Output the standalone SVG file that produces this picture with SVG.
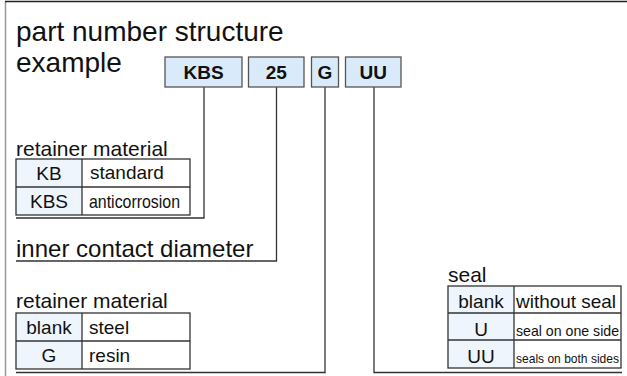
<svg xmlns="http://www.w3.org/2000/svg" width="627" height="376" viewBox="0 0 627 376">
<style>
text{font-family:"Liberation Sans",Arial,sans-serif;fill:#111}
.title{font-size:28px}
.lbl{font-size:21px}
.big{font-size:24px}
.code{font-size:19px;font-weight:bold;text-anchor:middle}
.key{font-size:19px;text-anchor:middle}
.val{font-size:19px}
.box{fill:#d9ebfa;stroke:#555;stroke-width:1.3}
.kc{fill:#eef5fc;stroke:none}
.cell{fill:none;stroke:#333;stroke-width:1.3}
.conn{fill:none;stroke:#333;stroke-width:1.3}
</style>
<rect width="627" height="376" fill="#fff"/>
<g id="frame">
<line x1="5.5" y1="1" x2="5.5" y2="376" stroke="#999" stroke-width="1.5"/>
<line x1="5" y1="1.5" x2="627" y2="1.5" stroke="#222" stroke-width="1.5"/>
</g>
<g id="title">
<text class="title" x="16" y="40.5">part number structure</text>
<text class="title" x="16" y="71.5">example</text>
</g>
<g id="connectors">
<polyline class="conn" points="204,87 204,218 16,218"/>
<polyline class="conn" points="276.5,87 276.5,261 16,261"/>
<polyline class="conn" points="325,87 325,372.5 16,372.5"/>
<polyline class="conn" points="374,87 374,372.5 622,372.5"/>
</g>
<g id="code-KBS">
<rect class="box" x="165" y="57" width="77" height="30"/>
<text class="code" x="203.5" y="79">KBS</text>
</g>
<g id="code-25">
<rect class="box" x="248.5" y="57" width="55.5" height="30"/>
<text class="code" x="276.2" y="79">25</text>
</g>
<g id="code-G">
<rect class="box" x="311.5" y="57" width="27" height="30"/>
<text class="code" x="325" y="79">G</text>
</g>
<g id="code-UU">
<rect class="box" x="345.5" y="57" width="55.5" height="30"/>
<text class="code" x="373.2" y="79">UU</text>
</g>
<g id="table-retainer-1">
<text class="lbl" x="16" y="156">retainer material</text>
<rect class="kc" x="16" y="159" width="66" height="56"/>
<rect class="cell" x="16" y="159" width="174" height="56"/>
<line class="cell" x1="82" y1="159" x2="82" y2="215"/>
<line class="cell" x1="16" y1="187" x2="190" y2="187"/>
<text class="key" x="49" y="180">KB</text>
<text class="val" x="90" y="179">standard</text>
<text class="key" x="49" y="208">KBS</text>
<text class="val" x="89" y="208" textLength="91" lengthAdjust="spacingAndGlyphs">anticorrosion</text>
</g>
<g id="label-diameter">
<text class="big" x="16" y="257">inner contact diameter</text>
</g>
<g id="table-retainer-2">
<text class="lbl" x="16" y="308">retainer material</text>
<rect class="kc" x="16" y="313" width="66" height="56"/>
<rect class="cell" x="16" y="313" width="174" height="56"/>
<line class="cell" x1="82" y1="313" x2="82" y2="369"/>
<line class="cell" x1="16" y1="341" x2="190" y2="341"/>
<text class="key" x="49" y="334">blank</text>
<text class="val" x="89" y="334">steel</text>
<text class="key" x="49" y="362">G</text>
<text class="val" x="89" y="362">resin</text>
</g>
<g id="table-seal">
<text class="lbl" x="448" y="282">seal</text>
<rect class="kc" x="448" y="286" width="66" height="82"/>
<rect class="cell" x="448" y="286" width="173" height="82"/>
<line class="cell" x1="514" y1="286" x2="514" y2="368"/>
<line class="cell" x1="448" y1="313" x2="621" y2="313"/>
<line class="cell" x1="448" y1="340" x2="621" y2="340"/>
<text class="key" x="481" y="308">blank</text>
<text class="val" x="516" y="308" textLength="100" lengthAdjust="spacingAndGlyphs">without seal</text>
<text class="key" x="481" y="335.5">U</text>
<text class="val" x="516" y="335.5" style="font-size:15px" textLength="103" lengthAdjust="spacingAndGlyphs">seal on one side</text>
<text class="key" x="481" y="363">UU</text>
<text class="val" x="516" y="363" style="font-size:12.8px" textLength="103" lengthAdjust="spacingAndGlyphs">seals on both sides</text>
</g>
</svg>
